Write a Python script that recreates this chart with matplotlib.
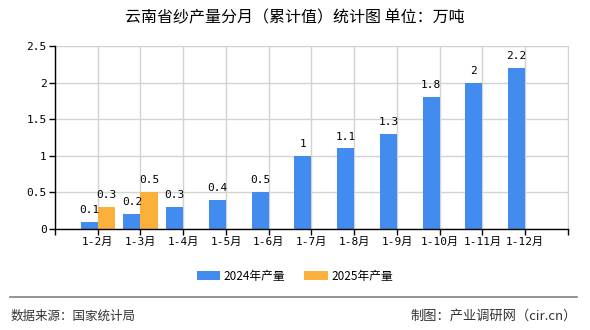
"""云南省纱产量分月累计值柱状图。"""

import matplotlib

matplotlib.use("Agg")

import matplotlib.pyplot as plt
import numpy as np

plt.rcParams["font.family"] = ["Noto Sans CJK SC", "DejaVu Sans"]

months = [
    "1-2月", "1-3月", "1-4月", "1-5月", "1-6月", "1-7月",
    "1-8月", "1-9月", "1-10月", "1-11月", "1-12月",
]
output_2024 = [0.1, 0.2, 0.3, 0.4, 0.5, 1, 1.1, 1.3, 1.8, 2, 2.2]
output_2025 = [0.3, 0.5]

y_ticks = [0, 0.5, 1, 1.5, 2, 2.5]
y_tick_labels = ["0", "0.5", "1", "1.5", "2", "2.5"]

BLUE = "#428cf0"
ORANGE = "#fbb03c"
GRID = "#d3d3d3"
MONO = ["DejaVu Sans Mono", "Noto Sans CJK SC"]


def format_value(value: float) -> str:
    """去掉整数后的小数点。"""
    return f"{value:g}"


def label_bars(axis, xs, values) -> None:
    """在柱顶写数值。"""
    for x, value in zip(xs, values):
        axis.annotate(
            format_value(value),
            (x, value),
            xytext=(0, 5),
            textcoords="offset points",
            ha="center",
            va="bottom",
            fontsize=8,
            family=MONO,
        )


def main() -> None:
    figure = plt.figure(
        figsize=(5.9, 3.3),
        dpi=100,
    )
    axis = figure.add_axes([0.0932, 0.306, 0.8695, 0.5546])

    positions = np.arange(1, len(months) + 1)
    width = 0.4

    axis.bar(
        positions[: len(output_2024)] - width / 2,
        output_2024,
        width=width,
        color=BLUE,
        label="2024年产量",
        zorder=3,
    )
    axis.bar(
        positions[: len(output_2025)] + width / 2,
        output_2025,
        width=width,
        color=ORANGE,
        label="2025年产量",
        zorder=3,
    )

    label_bars(axis, positions[: len(output_2024)] - width / 2, output_2024)
    label_bars(axis, positions[: len(output_2025)] + width / 2, output_2025)

    axis.set_xlim(0, len(months) + 1)
    axis.set_ylim(0, 2.5)

    axis.set_xticks(
        np.arange(0, len(months) + 2),
        labels=[""] + months + [""],
        fontsize=8,
        family=MONO,
    )
    axis.set_yticks(
        y_ticks,
        labels=y_tick_labels,
        fontsize=8,
        family=MONO,
    )
    axis.tick_params(
        axis="both",
        direction="out",
        length=4,
        width=1,
        color="#000000",
        pad=2,
    )

    axis.grid(
        True,
        color=GRID,
        linewidth=1,
        zorder=0,
    )
    for side in ("top", "right"):
        axis.spines[side].set_color(GRID)
    for side in ("left", "bottom"):
        axis.spines[side].set_color("#000000")
        axis.spines[side].set_linewidth(1)
        axis.spines[side].set_zorder(4)

    figure.text(
        0.5,
        0.945,
        "云南省纱产量分月（累计值）统计图 单位：万吨",
        ha="center",
        va="center",
        fontsize=11.5,
    )

    figure.legend(
        loc="center",
        bbox_to_anchor=(0.5, 0.163),
        ncol=2,
        frameon=False,
        fontsize=8.5,
        handlelength=2.0,
        handleheight=0.8,
        handletextpad=0.3,
        columnspacing=1.6,
    )

    figure.add_artist(
        plt.Line2D(
            [0.017, 0.978],
            [0.1, 0.1],
            transform=figure.transFigure,
            color="#808080",
            linewidth=1.2,
        )
    )
    figure.text(
        0.017,
        0.042,
        "数据来源：国家统计局",
        ha="left",
        va="center",
        fontsize=9,
        color="#333333",
    )
    figure.text(
        0.978,
        0.042,
        "制图：产业调研网（cir.cn）",
        ha="right",
        va="center",
        fontsize=9.5,
        color="#333333",
    )

    figure.savefig("out.png", dpi=100)
    plt.close(figure)


if __name__ == "__main__":
    main()
